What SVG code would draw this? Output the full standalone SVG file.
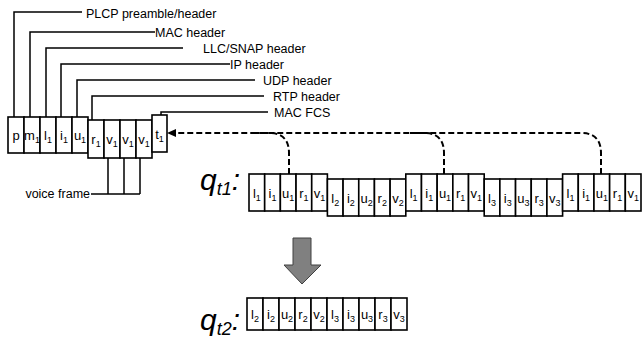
<svg xmlns="http://www.w3.org/2000/svg" width="642" height="339" viewBox="0 0 642 339">
<style>
.c{fill:#fff;stroke:#000;stroke-width:1.6}
.t{font-family:"Liberation Sans",Arial,sans-serif;font-size:13px;fill:#000;text-anchor:middle}
.s{font-size:9px}
.lab{font-family:"Liberation Sans",Arial,sans-serif;font-size:12.5px;fill:#000}
.ld{fill:none;stroke:#000;stroke-width:1.5}
.dash{fill:none;stroke:#000;stroke-width:2;stroke-dasharray:6 3}
.q{font-family:"Liberation Sans",Arial,sans-serif;font-size:30px;font-style:italic;fill:#000}
</style>
<defs>
<marker id="ah" markerWidth="9" markerHeight="8" refX="8" refY="4" orient="auto" markerUnits="userSpaceOnUse">
<path d="M0,0 L9,4 L0,8 z" fill="#000"/>
</marker>
</defs>

<g id="connectors">
<path class="ld" d="M14 117 V12 H82"/>
<path class="ld" d="M30 117 V32 H155"/>
<path class="ld" d="M46 117 V48 H183"/>
<path class="ld" d="M61 117 V64 H230"/>
<path class="ld" d="M77 117 V80 H255"/>
<path class="ld" d="M92 120 V96 H264"/>
<path class="ld" d="M161 115 V112 H268"/>
<path class="ld" d="M108 158 V194 M124 158 V194 M140 158 V194 M91 194 H140"/>
<path class="dash" d="M601 174 V153 Q601 133 581 133 H168" marker-end="url(#ah)"/>
<path class="dash" d="M444 174 V153 Q444 133 424 133 H410"/>
<path class="dash" d="M289 174 V153 Q289 133 269 133 H255"/>
<polygon points="293,238 311,238 311,265 321,265 302,284 284,265 293,265" fill="#808080" stroke="#404040" stroke-width="1"/>
</g>

<g id="labels">
<text class="lab" x="86" y="18">PLCP preamble/header</text>
<text class="lab" x="155" y="37">MAC header</text>
<text class="lab" x="203" y="53">LLC/SNAP header</text>
<text class="lab" x="230" y="69">IP header</text>
<text class="lab" x="263" y="85">UDP header</text>
<text class="lab" x="273" y="101">RTP header</text>
<text class="lab" x="274" y="117">MAC FCS</text>
<text class="lab" x="90" y="198" text-anchor="end">voice frame</text>
</g>

<g id="frame">
<rect class="c" x="8" y="117" width="16" height="36"/>
<rect class="c" x="24" y="117" width="16" height="36"/>
<rect class="c" x="40" y="117" width="16" height="36"/>
<rect class="c" x="56" y="117" width="16" height="36"/>
<rect class="c" x="72" y="117" width="16" height="36"/>
<rect class="c" x="88" y="120" width="16" height="38"/>
<rect class="c" x="104" y="120" width="16" height="38"/>
<rect class="c" x="120" y="120" width="16" height="38"/>
<rect class="c" x="136" y="120" width="16" height="38"/>
<rect class="c" x="152" y="115" width="15" height="37"/>
<text class="t" x="16" y="140">p</text>
<text class="t" x="32" y="140">m<tspan class="s" dy="3">1</tspan></text>
<text class="t" x="48" y="140">l<tspan class="s" dy="3">1</tspan></text>
<text class="t" x="64" y="140">i<tspan class="s" dy="3">1</tspan></text>
<text class="t" x="80" y="140">u<tspan class="s" dy="3">1</tspan></text>
<text class="t" x="96" y="144">r<tspan class="s" dy="3">1</tspan></text>
<text class="t" x="112" y="144">v<tspan class="s" dy="3">1</tspan></text>
<text class="t" x="128" y="144">v<tspan class="s" dy="3">1</tspan></text>
<text class="t" x="144" y="144">v<tspan class="s" dy="3">1</tspan></text>
<text class="t" x="159.5" y="139">t<tspan class="s" dy="3">1</tspan></text>
</g>

<g id="qt1-label"><text class="q" x="200" y="190">q<tspan font-size="18" dy="5">t1</tspan><tspan dy="-5">:</tspan></text></g>

<g id="qt1">
<g id="qt1-p1">
<rect class="c" x="249" y="174" width="15.68" height="37"/>
<rect class="c" x="264.68" y="174" width="15.68" height="37"/>
<rect class="c" x="280.36" y="174" width="15.68" height="37"/>
<rect class="c" x="296.04" y="174" width="15.68" height="37"/>
<rect class="c" x="311.72" y="174" width="15.68" height="37"/>
<text class="t" x="256.84" y="198">l<tspan class="s" dy="3">1</tspan></text>
<text class="t" x="272.52" y="198">i<tspan class="s" dy="3">1</tspan></text>
<text class="t" x="288.2" y="198">u<tspan class="s" dy="3">1</tspan></text>
<text class="t" x="303.88" y="198">r<tspan class="s" dy="3">1</tspan></text>
<text class="t" x="319.56" y="198">v<tspan class="s" dy="3">1</tspan></text>
</g>
<g id="qt1-p2">
<rect class="c" x="327.4" y="179" width="15.68" height="37"/>
<rect class="c" x="343.08" y="179" width="15.68" height="37"/>
<rect class="c" x="358.76" y="179" width="15.68" height="37"/>
<rect class="c" x="374.44" y="179" width="15.68" height="37"/>
<rect class="c" x="390.12" y="179" width="15.68" height="37"/>
<text class="t" x="335.24" y="203">l<tspan class="s" dy="3">2</tspan></text>
<text class="t" x="350.92" y="203">i<tspan class="s" dy="3">2</tspan></text>
<text class="t" x="366.6" y="203">u<tspan class="s" dy="3">2</tspan></text>
<text class="t" x="382.28" y="203">r<tspan class="s" dy="3">2</tspan></text>
<text class="t" x="397.96" y="203">v<tspan class="s" dy="3">2</tspan></text>
</g>
<g id="qt1-p3">
<rect class="c" x="405.8" y="174" width="15.68" height="37"/>
<rect class="c" x="421.48" y="174" width="15.68" height="37"/>
<rect class="c" x="437.16" y="174" width="15.68" height="37"/>
<rect class="c" x="452.84" y="174" width="15.68" height="37"/>
<rect class="c" x="468.52" y="174" width="15.68" height="37"/>
<text class="t" x="413.64" y="198">l<tspan class="s" dy="3">1</tspan></text>
<text class="t" x="429.32" y="198">i<tspan class="s" dy="3">1</tspan></text>
<text class="t" x="445" y="198">u<tspan class="s" dy="3">1</tspan></text>
<text class="t" x="460.68" y="198">r<tspan class="s" dy="3">1</tspan></text>
<text class="t" x="476.36" y="198">v<tspan class="s" dy="3">1</tspan></text>
</g>
<g id="qt1-p4">
<rect class="c" x="484.2" y="179" width="15.68" height="37"/>
<rect class="c" x="499.88" y="179" width="15.68" height="37"/>
<rect class="c" x="515.56" y="179" width="15.68" height="37"/>
<rect class="c" x="531.24" y="179" width="15.68" height="37"/>
<rect class="c" x="546.92" y="179" width="15.68" height="37"/>
<text class="t" x="492.04" y="203">l<tspan class="s" dy="3">3</tspan></text>
<text class="t" x="507.72" y="203">i<tspan class="s" dy="3">3</tspan></text>
<text class="t" x="523.4" y="203">u<tspan class="s" dy="3">3</tspan></text>
<text class="t" x="539.08" y="203">r<tspan class="s" dy="3">3</tspan></text>
<text class="t" x="554.76" y="203">v<tspan class="s" dy="3">3</tspan></text>
</g>
<g id="qt1-p5">
<rect class="c" x="562.6" y="174" width="15.68" height="37"/>
<rect class="c" x="578.28" y="174" width="15.68" height="37"/>
<rect class="c" x="593.96" y="174" width="15.68" height="37"/>
<rect class="c" x="609.64" y="174" width="15.68" height="37"/>
<rect class="c" x="625.32" y="174" width="15.68" height="37"/>
<text class="t" x="570.44" y="198">l<tspan class="s" dy="3">1</tspan></text>
<text class="t" x="586.12" y="198">i<tspan class="s" dy="3">1</tspan></text>
<text class="t" x="601.8" y="198">u<tspan class="s" dy="3">1</tspan></text>
<text class="t" x="617.48" y="198">r<tspan class="s" dy="3">1</tspan></text>
<text class="t" x="633.16" y="198">v<tspan class="s" dy="3">1</tspan></text>
</g>
</g>

<g id="qt2-label"><text class="q" x="200" y="330">q<tspan font-size="18" dy="5">t2</tspan><tspan dy="-5">:</tspan></text></g>

<g id="qt2">
<rect class="c" x="247" y="298" width="16" height="32"/>
<rect class="c" x="263" y="298" width="16" height="32"/>
<rect class="c" x="279" y="298" width="16" height="32"/>
<rect class="c" x="295" y="298" width="16" height="32"/>
<rect class="c" x="311" y="298" width="16" height="32"/>
<rect class="c" x="327" y="298" width="16" height="32"/>
<rect class="c" x="343" y="298" width="16" height="32"/>
<rect class="c" x="359" y="298" width="16" height="32"/>
<rect class="c" x="375" y="298" width="16" height="32"/>
<rect class="c" x="391" y="298" width="16" height="32"/>
<text class="t" x="255" y="319">l<tspan class="s" dy="3">2</tspan></text>
<text class="t" x="271" y="319">i<tspan class="s" dy="3">2</tspan></text>
<text class="t" x="287" y="319">u<tspan class="s" dy="3">2</tspan></text>
<text class="t" x="303" y="319">r<tspan class="s" dy="3">2</tspan></text>
<text class="t" x="319" y="319">v<tspan class="s" dy="3">2</tspan></text>
<text class="t" x="335" y="319">l<tspan class="s" dy="3">3</tspan></text>
<text class="t" x="351" y="319">i<tspan class="s" dy="3">3</tspan></text>
<text class="t" x="367" y="319">u<tspan class="s" dy="3">3</tspan></text>
<text class="t" x="383" y="319">r<tspan class="s" dy="3">3</tspan></text>
<text class="t" x="399" y="319">v<tspan class="s" dy="3">3</tspan></text>
</g>
</svg>
